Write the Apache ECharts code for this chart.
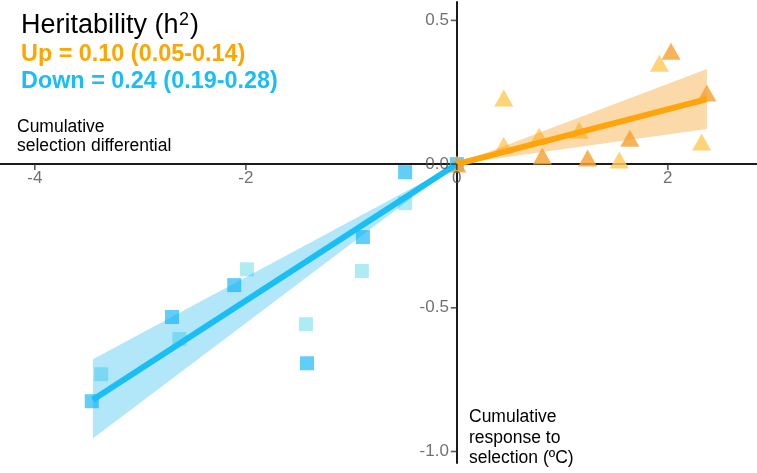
<!DOCTYPE html>
<html><head><meta charset="utf-8">
<script src="https://cdn.jsdelivr.net/npm/echarts@6/dist/echarts.min.js"></script>
<style>html,body{margin:0;padding:0;background:#fff}#c{width:757px;height:473px}</style>
</head><body><div id="c"></div>
<script>
// Down selection (squares), two replicate lines
const downDarkX = [-0.49, -0.89, -2.11, -2.70, -1.42, -3.46, 0];
const downDarkY = [-0.028, -0.254, -0.421, -0.532, -0.693, -0.825, 0];
const downLightX = [-0.49, -0.90, -1.99, -2.63, -1.43, -3.37];
const downLightY = [-0.136, -0.372, -0.366, -0.609, -0.557, -0.731];
// Up selection (triangles), two replicate lines
const upDarkX = [0.81, 1.24, 1.64, 2.03, 2.37, 0];
const upDarkY = [0.028, 0.021, 0.090, 0.393, 0.247, 0];
const upLightX = [0.445, 0.445, 0.78, 1.16, 1.54, 1.92, 2.32];
const upLightY = [0.230, 0.066, 0.097, 0.118, 0.014, 0.351, 0.077];
// Regression fits and confidence bands
const downFitX = [-3.45, 0];
const downFitY = [-0.82, 0];
const downBandUpper = [-0.679, 0];
const downBandLower = [-0.955, 0];
const upFitX = [0, 2.37];
const upFitY = [0, 0.226];
const upBandUpper = [0, 0.331];
const upBandLower = [0, 0.122];
// Axis ticks
const xTicks = [-4, -2, 0, 2];
const yTicks = [-1.0, -0.5, 0.0, 0.5];

const zip = (a, b) => a.map((v, i) => [v, b[i]]);
const FONT = "'Liberation Sans', Arial, sans-serif";

// measure title pieces for the superscript placement
const mctx = document.createElement('canvas').getContext('2d');
mctx.font = '27px ' + FONT;
const wMain = mctx.measureText('Heritability (h').width;
mctx.font = '18px ' + FONT;
const wSup = mctx.measureText('2').width;

function bandSeries(xs, up, lo, color) {
  const pts = xs.map((x, i) => [x, up[i], lo[i]]);
  return {
    type: 'custom', z: 3, silent: true,
    data: [0],
    renderItem: function (params, api) {
      const top = pts.map(p => api.coord([p[0], p[1]]));
      const bot = pts.slice().reverse().map(p => api.coord([p[0], p[2]]));
      return { type: 'polygon', shape: { points: top.concat(bot) }, style: { fill: color } };
    }
  };
}

const chart = echarts.init(document.getElementById('c'), null, { renderer: 'canvas' });
chart.setOption({
  animation: false,
  grid: { left: 0, right: 0, top: 2, bottom: 10, containLabel: false, outerBoundsMode: 'none' },
  xAxis: {
    type: 'value', min: -4.33, max: 2.845,
    axisLine: { onZero: true, lineStyle: { color: '#1a1a1a', width: 2 } },
    axisTick: { show: false },
    axisLabel: { show: false },
    splitLine: { show: false }
  },
  yAxis: {
    type: 'value', min: -1.04, max: 0.564,
    axisLine: { onZero: true, lineStyle: { color: '#1a1a1a', width: 2 } },
    axisTick: { show: false },
    axisLabel: { show: false },
    splitLine: { show: false }
  },
  series: [
    { type: 'scatter', z: 2, symbol: 'rect', symbolSize: 14, data: zip(downLightX, downLightY),
      itemStyle: { color: '#a6e9f2', opacity: 0.9 } },
    { type: 'scatter', z: 2, symbol: 'rect', symbolSize: 14, data: zip(downDarkX, downDarkY),
      itemStyle: { color: '#45c4f8', opacity: 0.85 } },
    { type: 'scatter', z: 2, symbol: 'triangle', symbolSize: [19, 17], data: zip(upLightX, upLightY),
      itemStyle: { color: '#ffcc5e', opacity: 0.85 } },
    { type: 'scatter', z: 2, symbol: 'triangle', symbolSize: [19, 17], data: zip(upDarkX, upDarkY),
      itemStyle: { color: '#f7a43a', opacity: 0.85 } },
    bandSeries(downFitX, downBandUpper, downBandLower, 'rgba(0,176,240,0.3)'),
    bandSeries(upFitX, upBandUpper, upBandLower, 'rgba(245,160,40,0.4)'),
    { type: 'line', z: 4, symbol: 'none', data: zip(downFitX, downFitY),
      lineStyle: { color: '#19bef5', width: 6 } },
    { type: 'line', z: 4, symbol: 'none', data: zip(upFitX, upFitY),
      lineStyle: { color: '#ffa40a', width: 6 } },
    // tick marks, positioned through the axes
    { type: 'scatter', z: 6, silent: true, symbol: 'rect', symbolSize: [1.6, 6], symbolOffset: [0, 3],
      data: xTicks.map(v => [v, 0]), itemStyle: { color: '#333' } },
    { type: 'scatter', z: 6, silent: true, symbol: 'rect', symbolSize: [6, 1.6], symbolOffset: [-3, 0],
      data: yTicks.map(v => [0, v]), itemStyle: { color: '#333' } },
    // tick labels, positioned through the axes
    { type: 'scatter', z: 6, silent: true, symbolSize: 0, data: xTicks.map(v => [v, 0]),
      label: { show: true, position: 'bottom', distance: 6, color: '#4d4d4d', fontSize: 17, fontFamily: FONT,
        formatter: p => String(p.value[0]) } },
    { type: 'scatter', z: 6, silent: true, symbolSize: 0, data: yTicks.map(v => [0, v]),
      label: { show: true, position: 'left', distance: 8, color: '#4d4d4d', fontSize: 17, fontFamily: FONT,
        formatter: p => p.value[1].toFixed(1) } }
  ],
  graphic: [
    { type: 'text', x: 21, y: 25.5, style: { text: 'Heritability (h', fill: '#000',
      font: '27px ' + FONT, verticalAlign: 'middle' } },
    { type: 'text', x: 21 + wMain + 0.5, y: 20, style: { text: '2', fill: '#000',
      font: '18px ' + FONT, verticalAlign: 'middle' } },
    { type: 'text', x: 21 + wMain + wSup + 1.5, y: 25.5, style: { text: ')', fill: '#000',
      font: '27px ' + FONT, verticalAlign: 'middle' } },
    { type: 'text', x: 21, y: 55, style: { text: 'Up = 0.10 (0.05-0.14)', fill: '#ffa500',
      font: 'bold 23.4px ' + FONT, verticalAlign: 'middle' } },
    { type: 'text', x: 21, y: 82, style: { text: 'Down = 0.24 (0.19-0.28)', fill: '#17bef7',
      font: 'bold 23.4px ' + FONT, verticalAlign: 'middle' } },
    { type: 'text', x: 17, y: 117.5, style: { text: 'Cumulative\nselection differential', fill: '#000',
      font: '17.5px ' + FONT, lineHeight: 19, verticalAlign: 'top' } },
    { type: 'text', x: 469, y: 407, style: { text: 'Cumulative\nresponse to\nselection (ºC)', fill: '#000',
      font: '17.5px ' + FONT, lineHeight: 20.5, verticalAlign: 'top' } }
  ]
});
</script></body></html>
